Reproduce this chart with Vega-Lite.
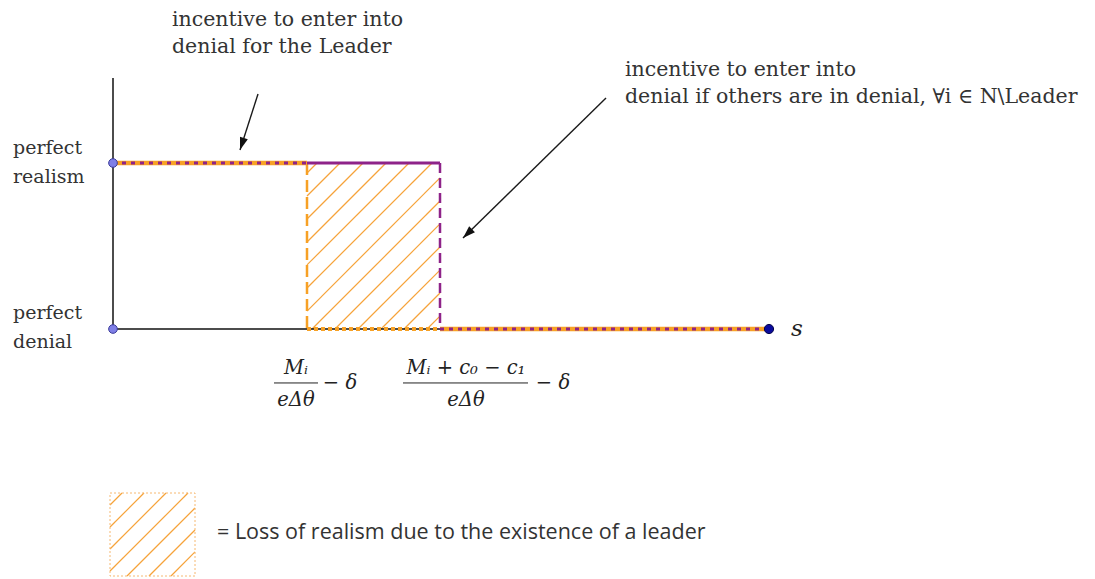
{
  "$schema": "https://vega.github.io/schema/vega-lite/v6.json",
  "width": 1095,
  "height": 579,
  "padding": 0,
  "autosize": "none",
  "background": "white",
  "config": {"view": {"stroke": null}},
  "datasets": {
    "lines": [
      {"seg": "axis_y", "x": 0, "y": 0, "x2": 0, "y2": 1.512},
      {"seg": "axis_x", "x": 0, "y": 0, "x2": 6.56, "y2": 0},
      {"seg": "leader_top", "x": 0, "y": 1, "x2": 1.94, "y2": 1},
      {"seg": "leader_drop", "x": 1.94, "y": 1, "x2": 1.94, "y2": 0},
      {"seg": "leader_low", "x": 1.94, "y": 0, "x2": 3.27, "y2": 0},
      {"seg": "leader_tail", "x": 3.27, "y": 0, "x2": 6.56, "y2": 0},
      {"seg": "others_shared_top", "x": 0, "y": 1, "x2": 1.94, "y2": 1},
      {"seg": "others_top", "x": 1.94, "y": 1, "x2": 3.27, "y2": 1},
      {"seg": "others_drop", "x": 3.27, "y": 1, "x2": 3.27, "y2": 0},
      {"seg": "others_tail", "x": 3.27, "y": 0, "x2": 6.56, "y2": 0}
    ],
    "hatch": [
      {"zone": "area", "x": 1.94, "y": 0.940, "x2": 2.04, "y2": 1},
      {"zone": "area", "x": 1.94, "y": 0.801, "x2": 2.27, "y2": 1},
      {"zone": "area", "x": 1.94, "y": 0.663, "x2": 2.50, "y2": 1},
      {"zone": "area", "x": 1.94, "y": 0.524, "x2": 2.73, "y2": 1},
      {"zone": "area", "x": 1.94, "y": 0.386, "x2": 2.96, "y2": 1},
      {"zone": "area", "x": 1.94, "y": 0.247, "x2": 3.19, "y2": 1},
      {"zone": "area", "x": 1.94, "y": 0.108, "x2": 3.27, "y2": 0.910},
      {"zone": "area", "x": 1.99, "y": 0, "x2": 3.27, "y2": 0.771},
      {"zone": "area", "x": 2.22, "y": 0, "x2": 3.27, "y2": 0.633},
      {"zone": "area", "x": 2.45, "y": 0, "x2": 3.27, "y2": 0.494},
      {"zone": "area", "x": 2.68, "y": 0, "x2": 3.27, "y2": 0.355},
      {"zone": "area", "x": 2.91, "y": 0, "x2": 3.27, "y2": 0.217},
      {"zone": "area", "x": 3.14, "y": 0, "x2": 3.27, "y2": 0.078},
      {"zone": "legend", "x": -0.03, "y": -1.060, "x2": 0.09, "y2": -0.988},
      {"zone": "legend", "x": -0.03, "y": -1.193, "x2": 0.31, "y2": -0.988},
      {"zone": "legend", "x": -0.03, "y": -1.325, "x2": 0.53, "y2": -0.988},
      {"zone": "legend", "x": -0.03, "y": -1.458, "x2": 0.75, "y2": -0.988},
      {"zone": "legend", "x": 0.14, "y": -1.488, "x2": 0.82, "y2": -1.078},
      {"zone": "legend", "x": 0.36, "y": -1.488, "x2": 0.82, "y2": -1.211},
      {"zone": "legend", "x": 0.58, "y": -1.488, "x2": 0.82, "y2": -1.343}
    ],
    "legendBox": [
      {"x": -0.03, "y": -1.488, "x2": 0.82, "y2": -0.988}
    ],
    "points": [
      {"kind": "origin", "x": 0, "y": 1},
      {"kind": "origin", "x": 0, "y": 0},
      {"kind": "end", "x": 6.56, "y": 0}
    ],
    "arrows": [
      {"arrow": "leader", "x": 1.45, "y": 1.416, "x2": 1.27, "y2": 1.078},
      {"arrow": "others", "x": 4.93, "y": 1.392, "x2": 3.50, "y2": 0.548}
    ],
    "levels": [
      {"text": "perfect", "x": -1.0, "y": 1.090},
      {"text": "realism", "x": -1.0, "y": 0.916},
      {"text": "perfect", "x": -1.0, "y": 0.096},
      {"text": "denial", "x": -1.0, "y": -0.078}
    ],
    "notes": [
      {"text": "incentive to enter into", "x": 0.59, "y": 1.861},
      {"text": "denial for the Leader", "x": 0.59, "y": 1.699},
      {"text": "incentive to enter into", "x": 5.12, "y": 1.560},
      {"text": "denial if others are in denial, ∀i ∈ N\\Leader", "x": 5.12, "y": 1.398}
    ],
    "axisName": [
      {"text": "s", "x": 6.84, "y": 0}
    ],
    "math": [
      {"text": "Mᵢ", "x": 1.83, "y": -0.235},
      {"text": "eΔθ", "x": 1.83, "y": -0.428},
      {"text": "− δ", "x": 2.27, "y": -0.325},
      {"text": "Mᵢ + c₀ − c₁", "x": 3.53, "y": -0.235},
      {"text": "eΔθ", "x": 3.53, "y": -0.428},
      {"text": "− δ", "x": 4.40, "y": -0.325}
    ],
    "fracBars": [
      {"x": 1.61, "y": -0.325, "x2": 2.05, "y2": -0.325},
      {"x": 2.90, "y": -0.325, "x2": 4.15, "y2": -0.325}
    ],
    "legendText": [
      {"text": "= Loss of realism due to the existence of a leader", "x": 1.04, "y": -1.229}
    ]
  },
  "layer": [
    {
      "data": {"name": "hatch"},
      "mark": {"type": "rule", "color": "#f6a33a", "strokeWidth": 1.2},
      "encoding": {
        "x": {"field": "x", "type": "quantitative", "scale": {"domain": [-1.13, 9.82], "nice": false, "zero": false}, "axis": null},
        "y": {"field": "y", "type": "quantitative", "scale": {"domain": [-1.506, 1.982], "nice": false, "zero": false}, "axis": null},
        "x2": {"field": "x2"},
        "y2": {"field": "y2"}
      }
    },
    {
      "data": {"name": "legendBox"},
      "mark": {"type": "rect", "fill": null, "fillOpacity": 0, "stroke": "#f6b870", "strokeWidth": 1, "strokeDash": [2, 2]},
      "encoding": {
        "x": {"field": "x", "type": "quantitative"},
        "y": {"field": "y", "type": "quantitative"},
        "x2": {"field": "x2"},
        "y2": {"field": "y2"}
      }
    },
    {
      "data": {"name": "lines"},
      "transform": [{"filter": "datum.seg == 'axis_x' || datum.seg == 'axis_y'"}],
      "mark": {"type": "rule", "color": "#111111", "strokeWidth": 1.5},
      "encoding": {
        "x": {"field": "x", "type": "quantitative"},
        "y": {"field": "y", "type": "quantitative"},
        "x2": {"field": "x2"},
        "y2": {"field": "y2"}
      }
    },
    {
      "data": {"name": "lines"},
      "transform": [{"filter": "datum.seg == 'leader_top' || datum.seg == 'leader_tail'"}],
      "mark": {"type": "rule", "color": "#f7a125", "strokeWidth": 4.5},
      "encoding": {
        "x": {"field": "x", "type": "quantitative"},
        "y": {"field": "y", "type": "quantitative"},
        "x2": {"field": "x2"},
        "y2": {"field": "y2"}
      }
    },
    {
      "data": {"name": "lines"},
      "transform": [{"filter": "datum.seg == 'leader_drop'"}],
      "mark": {"type": "rule", "color": "#f7a125", "strokeWidth": 2.5, "strokeDash": [12, 5]},
      "encoding": {
        "x": {"field": "x", "type": "quantitative"},
        "y": {"field": "y", "type": "quantitative"},
        "x2": {"field": "x2"},
        "y2": {"field": "y2"}
      }
    },
    {
      "data": {"name": "lines"},
      "transform": [{"filter": "datum.seg == 'leader_low'"}],
      "mark": {"type": "rule", "color": "#f7a125", "strokeWidth": 4, "strokeDash": [4, 3]},
      "encoding": {
        "x": {"field": "x", "type": "quantitative"},
        "y": {"field": "y", "type": "quantitative"},
        "x2": {"field": "x2"},
        "y2": {"field": "y2"}
      }
    },
    {
      "data": {"name": "lines"},
      "transform": [{"filter": "datum.seg == 'others_top'"}],
      "mark": {"type": "rule", "color": "#8e2389", "strokeWidth": 3},
      "encoding": {
        "x": {"field": "x", "type": "quantitative"},
        "y": {"field": "y", "type": "quantitative"},
        "x2": {"field": "x2"},
        "y2": {"field": "y2"}
      }
    },
    {
      "data": {"name": "lines"},
      "transform": [{"filter": "datum.seg == 'others_drop'"}],
      "mark": {"type": "rule", "color": "#8e2389", "strokeWidth": 2.5, "strokeDash": [10, 5]},
      "encoding": {
        "x": {"field": "x", "type": "quantitative"},
        "y": {"field": "y", "type": "quantitative"},
        "x2": {"field": "x2"},
        "y2": {"field": "y2"}
      }
    },
    {
      "data": {"name": "lines"},
      "transform": [{"filter": "datum.seg == 'others_shared_top' || datum.seg == 'others_tail'"}],
      "mark": {"type": "rule", "color": "#8e2389", "strokeWidth": 3, "strokeDash": [4, 5]},
      "encoding": {
        "x": {"field": "x", "type": "quantitative"},
        "y": {"field": "y", "type": "quantitative"},
        "x2": {"field": "x2"},
        "y2": {"field": "y2"}
      }
    },
    {
      "data": {"name": "points"},
      "transform": [{"filter": "datum.kind == 'origin'"}],
      "mark": {"type": "point", "shape": "circle", "filled": true, "fill": "#7f7fe6", "stroke": "#3a3a9a", "strokeWidth": 1, "size": 75, "opacity": 1},
      "encoding": {
        "x": {"field": "x", "type": "quantitative"},
        "y": {"field": "y", "type": "quantitative"}
      }
    },
    {
      "data": {"name": "points"},
      "transform": [{"filter": "datum.kind == 'end'"}],
      "mark": {"type": "point", "shape": "circle", "filled": true, "fill": "#0b0b9c", "stroke": "#05054a", "strokeWidth": 1, "size": 85, "opacity": 1},
      "encoding": {
        "x": {"field": "x", "type": "quantitative"},
        "y": {"field": "y", "type": "quantitative"}
      }
    },
    {
      "data": {"name": "arrows"},
      "mark": {"type": "rule", "color": "#1a1a1a", "strokeWidth": 1.4},
      "encoding": {
        "x": {"field": "x", "type": "quantitative"},
        "y": {"field": "y", "type": "quantitative"},
        "x2": {"field": "x2"},
        "y2": {"field": "y2"}
      }
    },
    {
      "data": {"name": "arrows"},
      "transform": [{"filter": "datum.arrow == 'leader'"}],
      "mark": {"type": "point", "shape": "M0,0L-0.65,2L0.65,2Z", "filled": true, "fill": "#111111", "strokeWidth": 0, "size": 160, "opacity": 1, "angle": 198},
      "encoding": {
        "x": {"field": "x2", "type": "quantitative"},
        "y": {"field": "y2", "type": "quantitative"}
      }
    },
    {
      "data": {"name": "arrows"},
      "transform": [{"filter": "datum.arrow == 'others'"}],
      "mark": {"type": "point", "shape": "M0,0L-0.65,2L0.65,2Z", "filled": true, "fill": "#111111", "strokeWidth": 0, "size": 160, "opacity": 1, "angle": 225.6},
      "encoding": {
        "x": {"field": "x2", "type": "quantitative"},
        "y": {"field": "y2", "type": "quantitative"}
      }
    },
    {
      "data": {"name": "fracBars"},
      "mark": {"type": "rule", "color": "#222222", "strokeWidth": 1},
      "encoding": {
        "x": {"field": "x", "type": "quantitative"},
        "y": {"field": "y", "type": "quantitative"},
        "x2": {"field": "x2"},
        "y2": {"field": "y2"}
      }
    },
    {
      "data": {"name": "levels"},
      "mark": {"type": "text", "align": "left", "baseline": "middle", "font": "DejaVu Serif", "fontSize": 19, "color": "#333333"},
      "encoding": {
        "x": {"field": "x", "type": "quantitative"},
        "y": {"field": "y", "type": "quantitative"},
        "text": {"field": "text"}
      }
    },
    {
      "data": {"name": "notes"},
      "mark": {"type": "text", "align": "left", "baseline": "middle", "font": "DejaVu Serif", "fontSize": 20.5, "color": "#333333"},
      "encoding": {
        "x": {"field": "x", "type": "quantitative"},
        "y": {"field": "y", "type": "quantitative"},
        "text": {"field": "text"}
      }
    },
    {
      "data": {"name": "axisName"},
      "mark": {"type": "text", "align": "center", "baseline": "middle", "font": "DejaVu Serif", "fontStyle": "italic", "fontSize": 23, "color": "#222222"},
      "encoding": {
        "x": {"field": "x", "type": "quantitative"},
        "y": {"field": "y", "type": "quantitative"},
        "text": {"field": "text"}
      }
    },
    {
      "data": {"name": "math"},
      "mark": {"type": "text", "align": "center", "baseline": "middle", "font": "DejaVu Serif", "fontStyle": "italic", "fontSize": 19.5, "color": "#222222"},
      "encoding": {
        "x": {"field": "x", "type": "quantitative"},
        "y": {"field": "y", "type": "quantitative"},
        "text": {"field": "text"}
      }
    },
    {
      "data": {"name": "legendText"},
      "mark": {"type": "text", "align": "left", "baseline": "middle", "font": "Open Sans", "fontSize": 21.5, "color": "#333333"},
      "encoding": {
        "x": {"field": "x", "type": "quantitative"},
        "y": {"field": "y", "type": "quantitative"},
        "text": {"field": "text"}
      }
    }
  ]
}
